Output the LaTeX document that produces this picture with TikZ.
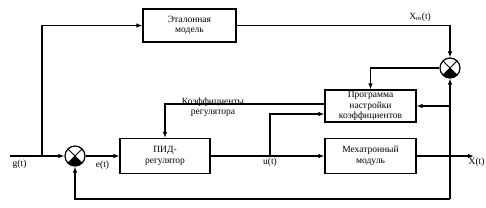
\documentclass[tikz,border=0pt]{standalone}
\usepackage{fontspec}
\setmainfont{Liberation Serif}
\usetikzlibrary{arrows.meta, positioning}

\begin{document}
\begin{tikzpicture}[
    x=1pt, y=-1pt,
    every node/.style={font=\fontsize{9.5}{10.5}\selectfont},
    block/.style={rectangle, draw, line width=1.2pt, minimum width=91pt, minimum height=34pt, align=center, inner sep=1pt},
    sumnode/.style={circle, draw, line width=1.2pt, minimum size=20pt, inner sep=0pt,
        path picture={
            \fill (path picture bounding box.center) -- (path picture bounding box.south west) -- (path picture bounding box.south east) -- cycle;
            \draw[line width=1pt] (path picture bounding box.south west) -- (path picture bounding box.north east)
                  (path picture bounding box.north west) -- (path picture bounding box.south east);}},
    arrow/.style={-{Latex[length=6pt, width=4.5pt]}, line width=1.1pt},
    sig/.style={inner sep=1.5pt}
]
\useasboundingbox (0,0) rectangle (486,207);

% blocks
\node[block, minimum width=93pt, minimum height=33pt] (etalon) at (189.5,25.5) {Эталонная\\модель};
\node[block, minimum height=32pt] (prog) at (370.5,106) {Программа\\настройки\\коэффициентов};
\node[block, minimum width=90pt, minimum height=35pt] (pid) at (165,156) {ПИД-\\регулятор};
\node[block, minimum height=35pt] (mech) at (370.5,156) {Мехатронный\\модуль};

% summing junctions
\node[sumnode] (sum1) at (75,156) {};
\node[sumnode] (sum2) at (450,68) {};

% free ends and branch points
\coordinate (gin) at (10,156);
\coordinate (split) at (42,156);
\coordinate (ubr) at (270,156);
\coordinate (xout) at (474,156);
\coordinate (bot) at (450,199);

% signals
\draw[arrow] (gin) -- (sum1.west);
\node[sig, below right] (glabel) at (11,158) {g(t)};
\draw[arrow] (split) |- (etalon.west);
\draw[arrow] (etalon.east) -| (sum2.north) node[pos=0.43, above] (xmlabel) {X\textsubscript{m}(t)};
\draw[arrow] (sum1.east) -- (pid.west) node[midway, below, yshift=-1pt] (elabel) {e(t)};
\draw[arrow] (pid.east) -- (mech.west);
\node[sig, below] (ulabel) at (ubr) {u(t)};
\draw[arrow] (ubr) |- ([yshift=-8pt]prog.west);
\draw[arrow] ([yshift=2pt]prog.west) -| (pid.north);
\node[sig, above] (klabel1) at (213,108) {Коэффициенты};
\node[sig, below] (klabel2) at (213,108) {регулятора};
\draw[arrow] (sum2.west) -| (prog.north);
\draw[arrow] (mech.east) -- (xout);
\node[sig, below right, xshift=-7pt] (xlabel) at (xout) {X(t)};

% feedback
\draw[arrow] (bot) -- (sum2.south);
\draw[arrow] (bot) -| (sum1.south);
\draw[arrow] (prog.east -| bot) -- (prog.east);

\end{tikzpicture}
\end{document}
